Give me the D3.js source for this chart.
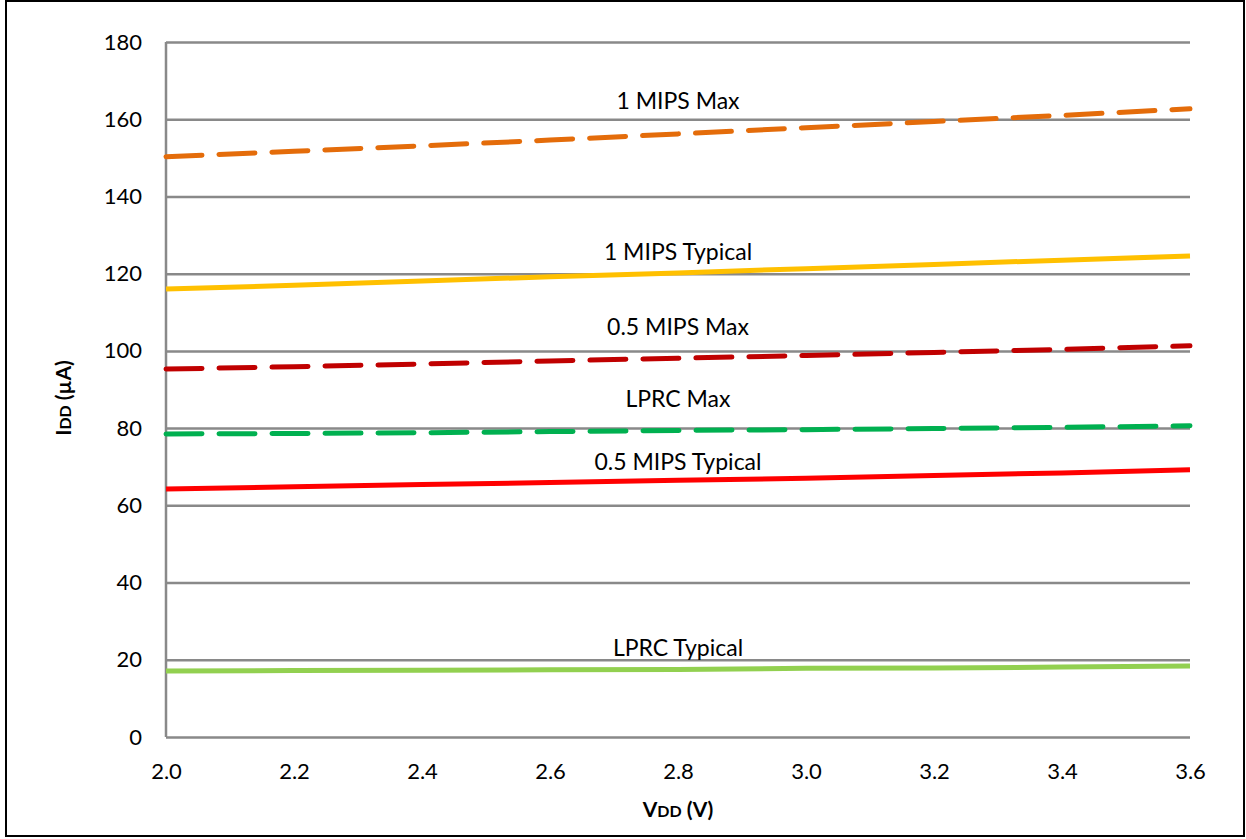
<!DOCTYPE html>
<html>
<head>
<meta charset="utf-8">
<script src="https://cdn.jsdelivr.net/npm/d3@7"></script>
<style>
  body { margin: 0; background: #fff; }
  svg text { font-family: Lato, "Open Sans", sans-serif; fill: #000; }
</style>
</head>
<body>
<div id="graph"></div>
<script>
'use strict';

// supply voltage samples (V)
const vdd = [2.0, 2.2, 2.4, 2.6, 2.8, 3.0, 3.2, 3.4, 3.6];

// IDD in µA
const mips1Max     = [150.3, 151.7, 153.1, 154.6, 156.2, 157.8, 159.4, 161.0, 162.7];
const mips1Typ     = [116.0, 117.0, 118.1, 119.2, 120.2, 121.3, 122.4, 123.5, 124.6];
const mips05Max    = [95.3, 95.9, 96.6, 97.4, 98.1, 98.8, 99.6, 100.4, 101.3];
const lprcMax      = [78.5, 78.6, 78.8, 79.1, 79.4, 79.6, 79.9, 80.2, 80.6];
const mips05Typ    = [64.2, 64.8, 65.4, 65.9, 66.5, 67.0, 67.7, 68.4, 69.2];
const lprcTyp      = [17.1, 17.2, 17.3, 17.4, 17.5, 17.8, 17.9, 18.1, 18.4];

const yTicks = [0, 20, 40, 60, 80, 100, 120, 140, 160, 180];
const xTicks = [2.0, 2.2, 2.4, 2.6, 2.8, 3.0, 3.2, 3.4, 3.6];

const series = [
  { name: '1 MIPS Max',       values: mips1Max,  color: '#E46C0A', dashed: true,  lift: 34 },
  { name: '1 MIPS Typical',   values: mips1Typ,  color: '#FFC000', dashed: false, lift: 22 },
  { name: '0.5 MIPS Max',     values: mips05Max, color: '#C00000', dashed: true,  lift: 32 },
  { name: 'LPRC Max',         values: lprcMax,   color: '#00B050', dashed: true,  lift: 32 },
  { name: '0.5 MIPS Typical', values: mips05Typ, color: '#FF0000', dashed: false, lift: 19 },
  { name: 'LPRC Typical',     values: lprcTyp,   color: '#92D050', dashed: false, lift: 22 }
];

var W = 1246, H = 839,
    padl = 166, padr = 56, padt = 42, padb = 102,
    w = W - padl - padr,
    h = H - padt - padb,
    x = d3.scaleLinear().domain([2.0, 3.6]).range([0, w]),
    y = d3.scaleLinear().domain([0, 180]).range([h, 0]);

var svg = d3.select('#graph')
    .append('svg')
    .attr('width', W)
    .attr('height', H);

// outer frame
svg.append('rect')
    .attr('x', 6).attr('y', 1)
    .attr('width', W - 8).attr('height', H - 4)
    .attr('fill', 'none')
    .attr('stroke', '#000')
    .attr('stroke-width', 2);

var vis = svg.append('g')
    .attr('transform', 'translate(' + padl + ',' + padt + ')');

// gridlines + y labels
var yAxis = d3.axisLeft(y).tickValues(yTicks).tickSize(-w).tickPadding(24).tickFormat(d3.format('d'));
vis.append('g')
    .attr('class', 'y axis')
    .call(yAxis)
    .call(g => g.select('.domain').remove())
    .call(g => g.selectAll('line').attr('stroke', '#898989').attr('stroke-width', 2.5))
    .call(g => g.selectAll('text').style('font-size', '22px'));

vis.append('line')
    .attr('x1', 0).attr('x2', 0)
    .attr('y1', 0).attr('y2', h)
    .attr('stroke', '#898989')
    .attr('stroke-width', 2.5);

var xAxis = d3.axisBottom(x).tickValues(xTicks).tickSize(0).tickPadding(26).tickFormat(d3.format('.1f'));
vis.append('g')
    .attr('class', 'x axis')
    .attr('transform', 'translate(0,' + h + ')')
    .call(xAxis)
    .call(g => g.select('.domain').remove())
    .call(g => g.selectAll('text').style('font-size', '22px'));

// lines
var line = d3.line()
    .x((d, i) => x(vdd[i]))
    .y(d => y(d));

series.forEach(function (s) {
  vis.append('path')
    .datum(s.values)
    .attr('d', line)
    .attr('fill', 'none')
    .attr('stroke', s.color)
    .attr('stroke-width', 5)
    .attr('stroke-linecap', s.dashed ? 'round' : 'butt')
    .attr('stroke-dasharray', s.dashed ? '36,17' : null);

  var mid = s.values[vdd.indexOf(2.8)];
  vis.append('text')
    .attr('x', x(2.8))
    .attr('y', y(mid) - s.lift)
    .attr('text-anchor', 'middle')
    .attr('dominant-baseline', 'central')
    .style('font-size', '23px')
    .text(s.name);
});

// axis titles
var yt = svg.append('text')
    .attr('transform', 'translate(71,' + 398 + ') rotate(-90)')
    .attr('text-anchor', 'middle')
    .style('font-size', '21px')
    .style('font-weight', 'bold');
yt.append('tspan').text('I');
yt.append('tspan').style('font-size', '16px').text('DD');
yt.append('tspan').text(' (µA)');

var xt = svg.append('text')
    .attr('x', padl + x(2.8))
    .attr('y', 817)
    .attr('text-anchor', 'middle')
    .style('font-size', '21px')
    .style('font-weight', 'bold');
xt.append('tspan').text('V');
xt.append('tspan').style('font-size', '16px').text('DD');
xt.append('tspan').text(' (V)');
</script>
</body>
</html>
